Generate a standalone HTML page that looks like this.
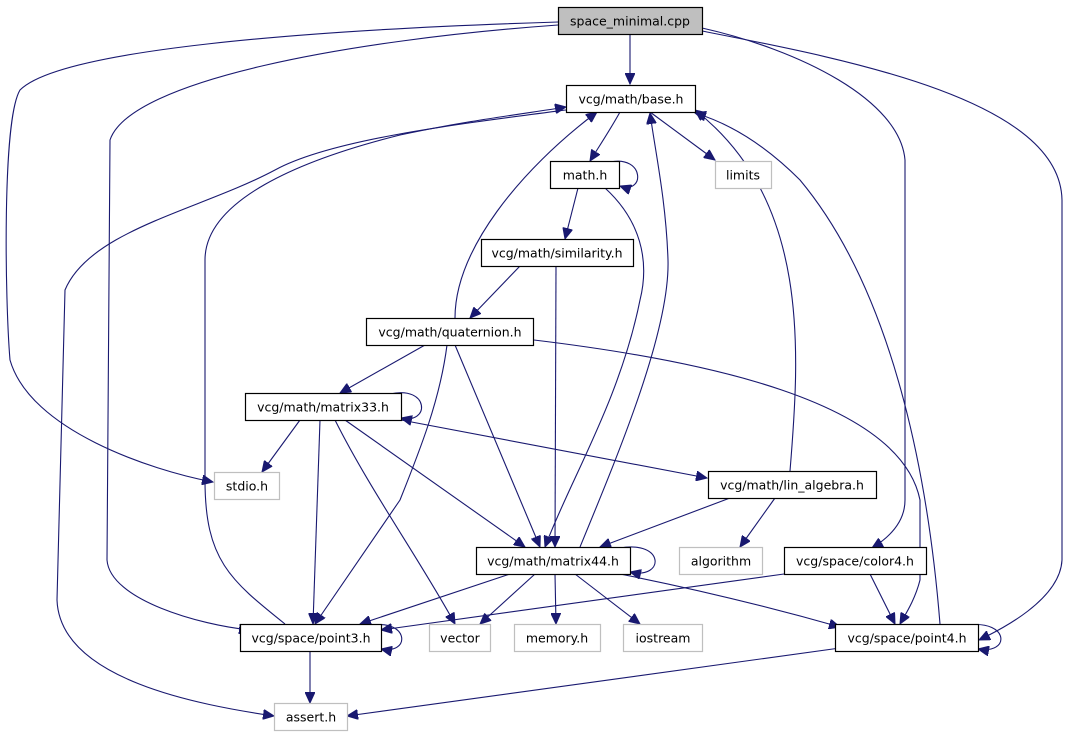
<!DOCTYPE html>
<html><head><meta charset="utf-8"><style>html,body{margin:0;padding:0;background:#fff}svg{display:block}</style></head>
<body>
<svg width="1068" height="736" viewBox="0 0 1068 736" xmlns="http://www.w3.org/2000/svg" font-family="'DejaVu Sans','Liberation Sans',sans-serif" font-size="12.5">
<defs>
<marker id="a" markerWidth="12" markerHeight="10" refX="11" refY="5" orient="auto" markerUnits="userSpaceOnUse">
<path d="M0,0 L11,5 L0,10 z" fill="#191970" stroke="#191970"/>
</marker>
</defs>
<g fill="none" stroke="#191970" stroke-width="1.1" marker-end="url(#a)">
<path d="M630,34 L630,84"/>
<path d="M558,22 C300,30 60,50 20,90 C2,120 5,300 10,360 C30,430 150,470 213,482"/>
<path d="M558,25 C350,40 130,80 110,140 L107,560 C110,600 200,625 250,630"/>
<path d="M702,28 C800,50 900,100 905,160 L905,500 C905,525 885,540 872,548"/>
<path d="M702,31 C850,60 1060,100 1062,200 L1062,560 C1060,600 1000,630 979,640"/>
<path d="M620,112 C610,130 600,145 590,161"/>
<path d="M650,112 L715,160"/>
<path d="M610,162 C645,155 645,195 620,186"/>
<path d="M578,188 L565,239"/>
<path d="M605,188 C640,220 650,260 640,300 C620,400 570,480 545,547"/>
<path d="M520,266 L470,318"/>
<path d="M556,266 L555,547"/>
<path d="M425,345 L340,393"/>
<path d="M455,345 L540,547"/>
<path d="M447,345 C440,400 420,450 400,500 L315,624"/>
<path d="M534,340 C700,360 900,400 920,500 L920,580 C915,600 905,615 900,624"/>
<path d="M390,394 C430,385 430,425 401,418"/>
<path d="M300,420 L262,472"/>
<path d="M320,420 L313,624"/>
<path d="M335,420 C370,490 420,560 455,624"/>
<path d="M345,420 L525,547"/>
<path d="M401,420 L707,478"/>
<path d="M566,110 C450,125 330,140 275,170 C200,210 90,230 65,290 L57,600 C60,680 200,705 274,716"/>
<path d="M285,624 C230,580 205,560 205,480 L205,260 C205,200 300,160 400,135 C470,120 530,113 566,107"/>
<path d="M455,318 C455,250 520,170 597,112"/>
<path d="M580,547 C620,450 670,330 668,260 C666,200 655,150 650,113"/>
<path d="M790,471 C800,350 810,200 695,110"/>
<path d="M940,624 C930,500 900,300 800,180 C760,140 725,122 695,113"/>
<path d="M730,498 L600,547"/>
<path d="M775,498 L740,547"/>
<path d="M784,574 C600,600 450,620 381,630"/>
<path d="M870,574 L895,624"/>
<path d="M510,574 L360,624"/>
<path d="M535,574 L480,624"/>
<path d="M555,574 L556,624"/>
<path d="M575,574 L640,624"/>
<path d="M620,574 C700,590 780,610 840,627"/>
<path d="M620,548 C665,540 665,580 630,572"/>
<path d="M372,625 C410,620 410,655 381,649"/>
<path d="M968,625 C1010,620 1010,655 978,649"/>
<path d="M310,651 L310,703"/>
<path d="M840,648 L347,716"/>
</g>
<g stroke-width="1.2">
<rect x="558.5" y="7.5" width="144" height="27" fill="#bfbfbf" stroke="#000"/>
<rect x="566.5" y="85.5" width="129" height="27" fill="#fff" stroke="#000"/>
<rect x="550.5" y="161.5" width="69" height="27" fill="#fff" stroke="#000"/>
<rect x="715.5" y="161.5" width="56" height="27" fill="#fff" stroke="#bfbfbf"/>
<rect x="481.5" y="239.5" width="152" height="27" fill="#fff" stroke="#000"/>
<rect x="366.5" y="318.5" width="167" height="27" fill="#fff" stroke="#000"/>
<rect x="245.5" y="393.5" width="156" height="27" fill="#fff" stroke="#000"/>
<rect x="214.5" y="472.5" width="65" height="27" fill="#fff" stroke="#bfbfbf"/>
<rect x="708.5" y="471.5" width="168" height="27" fill="#fff" stroke="#000"/>
<rect x="679.5" y="547.5" width="83" height="27" fill="#fff" stroke="#bfbfbf"/>
<rect x="476.5" y="547.5" width="154" height="27" fill="#fff" stroke="#000"/>
<rect x="784.5" y="547.5" width="142" height="27" fill="#fff" stroke="#000"/>
<rect x="240.5" y="624.5" width="141" height="27" fill="#fff" stroke="#000"/>
<rect x="429.5" y="624.5" width="61" height="27" fill="#fff" stroke="#bfbfbf"/>
<rect x="514.5" y="624.5" width="86" height="27" fill="#fff" stroke="#bfbfbf"/>
<rect x="623.5" y="624.5" width="79" height="27" fill="#fff" stroke="#bfbfbf"/>
<rect x="835.5" y="624.5" width="143" height="27" fill="#fff" stroke="#000"/>
<rect x="274.5" y="703.5" width="73" height="27" fill="#fff" stroke="#bfbfbf"/>
</g>
<g text-anchor="middle" fill="#000">
<text x="630" y="25.5">space_minimal.cpp</text>
<text x="631" y="103.5">vcg/math/base.h</text>
<text x="585" y="179.5">math.h</text>
<text x="743" y="179.5">limits</text>
<text x="557" y="257.5">vcg/math/similarity.h</text>
<text x="450" y="336.5">vcg/math/quaternion.h</text>
<text x="323" y="411.5">vcg/math/matrix33.h</text>
<text x="247" y="490.5">stdio.h</text>
<text x="792" y="489.5">vcg/math/lin_algebra.h</text>
<text x="721" y="565.5">algorithm</text>
<text x="553" y="565.5">vcg/math/matrix44.h</text>
<text x="855" y="565.5">vcg/space/color4.h</text>
<text x="311" y="642.5">vcg/space/point3.h</text>
<text x="460" y="642.5">vector</text>
<text x="557" y="642.5">memory.h</text>
<text x="663" y="642.5">iostream</text>
<text x="907" y="642.5">vcg/space/point4.h</text>
<text x="311" y="721.5">assert.h</text>
</g>
</svg>
</body></html>
